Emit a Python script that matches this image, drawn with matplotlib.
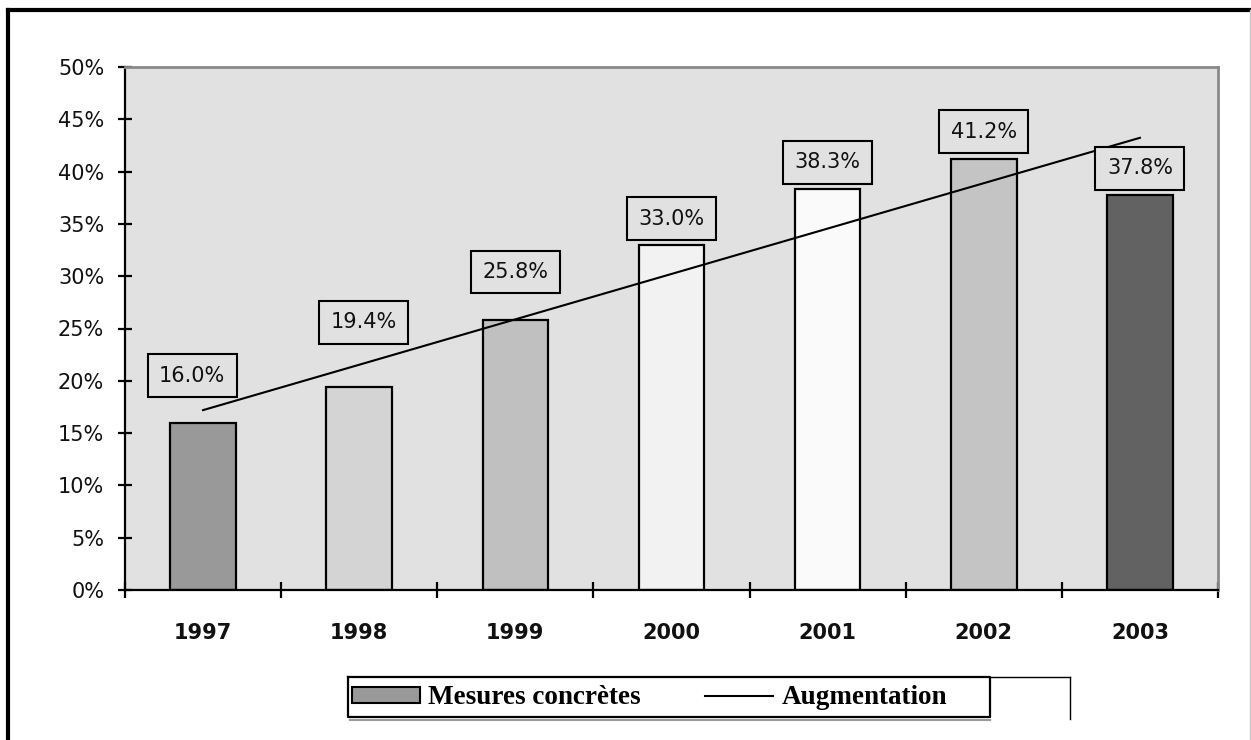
import matplotlib
matplotlib.use('Agg')
import matplotlib.pyplot as plt
import numpy as np
from matplotlib.patches import Patch
from matplotlib.lines import Line2D

years = ['1997', '1998', '1999', '2000', '2001', '2002', '2003']
values = [16.0, 19.4, 25.8, 33.0, 38.3, 41.2, 37.8]
bar_colors = ['#999999', '#d4d4d4', '#c0c0c0', '#f2f2f2', '#fafafa', '#c4c4c4', '#626262']

# label box placement (data units above bar, x shift in categories)
label_dy = [4.5, 6.2, 4.6, 2.5, 2.6, 2.6, 2.5]
label_dx = [-0.07, 0.03, 0, 0, 0, 0, 0]

BG = '#e1e1e1'
W, H = 1251, 740

fig = plt.figure(figsize=(12.51, 7.40), dpi=100)
fig.patch.set_facecolor('white')
ax = fig.add_axes([125 / W, 1 - 590 / H, (1218 - 125) / W, (590 - 67) / H])
ax.set_facecolor(BG)

x = np.arange(len(years))
ax.bar(x, values, width=0.42, color=bar_colors, edgecolor='black', linewidth=1.6, zorder=2)

# linear trend line
slope, icpt = np.polyfit(x, values, 1)
ax.plot(x, slope * x + icpt, color='black', lw=1.5, zorder=3)

for i, v in enumerate(values):
    ax.text(x[i] + label_dx[i], v + label_dy[i], f'{v:.1f}%', ha='center', va='center',
            fontsize=15, color='#111111', zorder=4,
            bbox=dict(boxstyle='square,pad=0.55', facecolor=BG, edgecolor='black', linewidth=1.5))

ax.set_xlim(-0.5, len(years) - 0.5)
ax.set_ylim(0, 50)
ax.set_yticks(np.arange(0, 51, 5))
ax.set_yticklabels([f'{t}%' for t in range(0, 51, 5)], fontsize=15, color='#111111')
ax.tick_params(axis='y', direction='inout', length=10, width=1.6, pad=10)

ax.set_xticks(x)
ax.set_xticklabels(years, fontsize=15, fontweight='bold', color='#111111')
ax.set_xticks(np.arange(-0.5, len(years), 1), minor=True)
ax.tick_params(axis='x', which='major', length=0, pad=24)
ax.tick_params(axis='x', which='minor', direction='inout', length=12, width=1.6)

ax.spines['left'].set_linewidth(1.6)
ax.spines['bottom'].set_linewidth(1.6)
ax.spines['top'].set_color('#8a8a8a')
ax.spines['right'].set_color('#8a8a8a')
ax.spines['top'].set_linewidth(2)
ax.spines['right'].set_linewidth(2)

# legend (frame drawn by hand below)
handles = [Patch(facecolor='#999999', edgecolor='black', linewidth=1.5),
           Line2D([0], [0], color='black', lw=1.5)]
fig.legend(handles, ['Mesures concrètes', 'Augmentation'], ncol=2,
           loc='center left', bbox_to_anchor=(352 / W, 1 - 698 / H),
           prop={'family': 'Liberation Serif', 'weight': 'bold', 'size': 19.5},
           frameon=False, handlelength=2.5, handleheight=0.5,
           columnspacing=2.4, handletextpad=0.3, borderpad=0, borderaxespad=0)

def fline(xs, ys, **kw):
    fig.add_artist(Line2D([v / W for v in xs], [1 - v / H for v in ys],
                          transform=fig.transFigure, **kw))

fline([348, 990, 990, 348, 348], [677, 677, 717, 717, 677], color='black', lw=1.6)
fline([350, 990], [719.5, 719.5], color='#9a9a9a', lw=1.5)
fline([990, 1070], [677, 677], color='black', lw=1.0)
fline([1070, 1070], [677, 719], color='black', lw=1.0)

# outer frame
fline([8, W], [10, 10], color='black', lw=3)
fline([8, 8], [10, H], color='black', lw=3)
fline([1249.5, 1249.5], [10, H], color='#c8c8c8', lw=1)

fig.savefig('out.png', dpi=100, facecolor='white')
